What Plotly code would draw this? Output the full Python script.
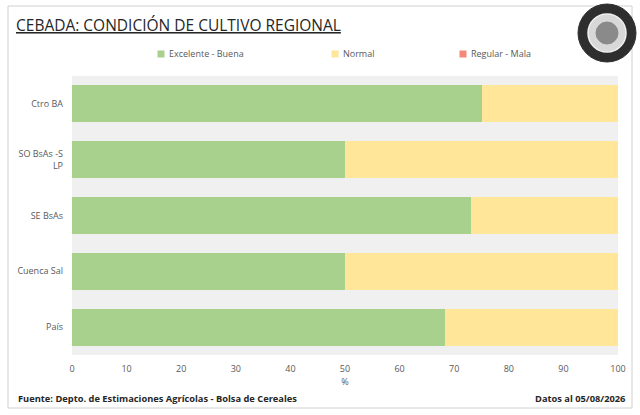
import plotly.graph_objects as go

# Datos de condición de cultivo (% de superficie)
regiones = ["Ctro BA", "SO BsAs -S<br>LP", "SE BsAs", "Cuenca Sal", "País"]
excelente_buena = [75, 50, 73, 50, 68.4]
normal = [25, 50, 27, 50, 31.6]
regular_mala = [0, 0, 0, 0, 0]

series = ["Excelente - Buena", "Normal", "Regular - Mala"]
colores = ["#a9d18e", "#ffe699", "#f4897a"]
x_ticks = list(range(0, 101, 10))

FONT = "Open Sans"
GRIS = "#595959"

W, H = 640, 415
L, R, T, B = 72, 22, 76, 60
plot_w = W - L - R
plot_h = H - T - B


def px_x(px):
    return (px - L) / plot_w


def px_y(py):
    return (H - B - py) / plot_h


fig = go.Figure()

valores = [excelente_buena, normal, regular_mala]
for nombre, vals, color in zip(series, valores, colores):
    fig.add_trace(go.Bar(
        y=regiones,
        x=vals,
        name=nombre,
        orientation="h",
        marker=dict(color=color, line=dict(width=0)),
        showlegend=False,
        hoverinfo="x+name",
    ))

# leyenda dibujada a mano (cuadrito + texto) para respetar el espaciado de Excel
legend_x = [161, 335, 463]
for nombre, color, lx in zip(series, colores, legend_x):
    fig.add_shape(type="rect", xref="paper", yref="paper",
                  x0=px_x(lx - 3.5), x1=px_x(lx + 3.5),
                  y0=px_y(57.5), y1=px_y(50.5),
                  fillcolor=color, line=dict(width=0))
    fig.add_annotation(text=nombre, xref="paper", yref="paper",
                       x=px_x(lx + 6), y=px_y(54), xanchor="left", yanchor="middle",
                       showarrow=False, font=dict(family=FONT, size=9, color=GRIS))

fig.update_layout(
    barmode="stack",
    bargap=0.34,
    width=W,
    height=H,
    margin=dict(l=L, r=R, t=T, b=B),
    paper_bgcolor="white",
    plot_bgcolor="#f0f0f0",
    font=dict(family=FONT, size=9, color=GRIS),
    xaxis=dict(
        range=[0, 100],
        tickvals=x_ticks,
        showgrid=False,
        zeroline=False,
        showline=False,
        ticks="",
        ticklabelstandoff=7,
        tickfont=dict(size=9, color=GRIS),
        title=dict(text="%", font=dict(size=9, color=GRIS), standoff=2),
    ),
    yaxis=dict(
        autorange="reversed",
        showgrid=False,
        zeroline=False,
        ticks="",
        ticklabelstandoff=8,
        tickfont=dict(size=9, color=GRIS),
    ),
)

# marco exterior
fig.add_shape(type="rect", xref="paper", yref="paper",
              x0=px_x(8), x1=px_x(632), y0=px_y(408), y1=px_y(6),
              line=dict(color="#d0d0d0", width=1), layer="below")

# sello (logo) de la Bolsa de Cereales, simplificado
cx, cy = 607, 33
for r, fill, lc, lw in [(29, "#2e2e2e", "#2e2e2e", 1),
                        (19, "#d8d8d8", "#f0f0f0", 1.5),
                        (11, "#8a8a8a", "#8a8a8a", 1)]:
    fig.add_shape(type="circle", xref="paper", yref="paper",
                  x0=px_x(cx - r), x1=px_x(cx + r), y0=px_y(cy + r), y1=px_y(cy - r),
                  fillcolor=fill, line=dict(color=lc, width=lw))

fig.add_annotation(
    text="<u>CEBADA: CONDICIÓN DE CULTIVO REGIONAL</u>",
    xref="paper", yref="paper", x=px_x(14), y=px_y(25),
    xanchor="left", yanchor="middle", showarrow=False,
    font=dict(family=FONT, size=15.5, color="#262626"),
)
fig.add_annotation(
    text="<b>Fuente: Depto. de Estimaciones Agrícolas - Bolsa de Cereales</b>",
    xref="paper", yref="paper", x=px_x(16), y=px_y(398),
    xanchor="left", yanchor="middle", showarrow=False,
    font=dict(family=FONT, size=9.3, color="#262626"),
)
fig.add_annotation(
    text="<b>Datos al 05/08/2026</b>",
    xref="paper", yref="paper", x=px_x(628), y=px_y(398),
    xanchor="right", yanchor="middle", showarrow=False,
    font=dict(family=FONT, size=9.3, color="#262626"),
)

fig.write_html("out.html", config={"displayModeBar": False},
               post_script="document.body.style.margin='0';")
